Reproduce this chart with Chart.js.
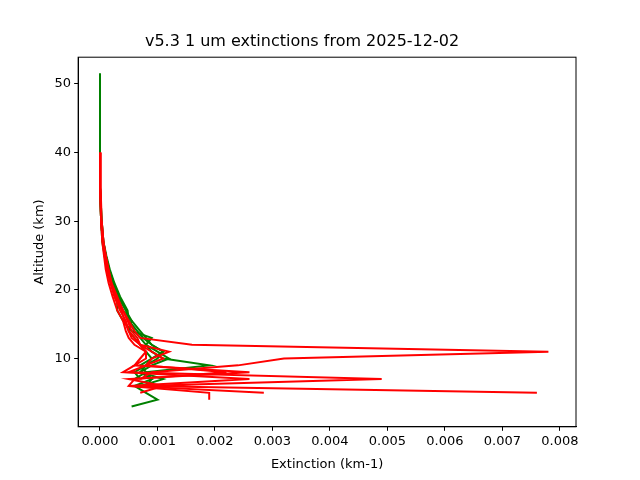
<!DOCTYPE html>
<html><head><script src="https://cdn.jsdelivr.net/npm/chart.js@4"></script>
<style>body{margin:0;background:#fff}</style></head><body>
<div style="width:640px;height:480px"><canvas id="c" width="640" height="480"></canvas></div>
<script>
const alts = [51.5,45,40,35,30,27,25,23,21,19,17,15.5,14,13,12,11,10,9,8,7,6,5,4,3];
const redProfiles = [
 [null,null,0.00001,0.00001,0.00003,0.00006,0.0001,0.00015,0.0002,0.0003,0.0004,0.0005,0.0006,0.0007,0.0016,0.0078,0.0032,0.0024,0.0009,0.0007,null,null,null,null],
 [null,null,0,0,0.00002,0.00005,0.00008,0.00012,0.00018,0.00025,0.00035,0.00045,0.0005,0.0006,0.0007,0.0012,0.0009,0.0008,0.0005,0.0049,0.0007,0.0076,null,null],
 [null,null,null,0,0.00002,0.00004,0.00007,0.0001,0.00015,0.00022,0.0003,0.0004,0.00045,0.0005,0.0006,0.0008,0.0007,0.0006,0.0004,0.0026,0.0005,0.0019,0.0019,null],
 [null,null,null,null,0.00003,0.00006,0.0001,0.00014,0.0002,0.00028,0.0004,0.00048,0.00055,0.00065,0.0007,0.0009,0.0011,0.0008,0.0022,0.0006,0.0005,0.00285,null,null],
 [null,null,0.00001,0.00001,0.00002,0.00005,0.00009,0.00013,0.00019,0.00027,0.00038,0.00042,0.0005,0.00055,0.0007,0.0008,0.0008,0.0006,0.0026,0.0005,0.0011,0.0007,null,null]
];
const greenProfiles = [
 [0,0,0,0,0.00002,0.00005,0.0001,0.00015,0.00022,0.00032,0.00045,0.00055,0.0007,0.0008,0.0009,0.0011,0.0009,0.0008,0.0007,0.0009,0.0006,0.0008,0.001,0.00055],
 [0,0,0,0,0.00003,0.00006,0.00011,0.00017,0.00025,0.00035,0.00048,0.0005,0.0006,0.0007,0.0008,0.001,0.0012,0.0009,0.0007,0.0011,0.0007,null,null,null],
 [0,0,0,0,0.00002,0.00004,0.00008,0.00012,0.0002,0.0003,0.0003,0.0004,0.00055,0.0009,0.0008,0.0009,0.0011,0.0019,0.0008,0.0006,null,null,null,null],
 [0,0,0,0,0.00002,0.00005,0.0001,0.00014,0.0002,0.0003,0.0004,0.00055,0.0005,0.0006,0.0007,0.0008,0.0009,0.0007,0.0008,0.0009,0.0008,null,null,null],
 [0,0,0,0,0.00003,0.00006,0.0001,0.00016,0.00024,0.00033,0.00046,0.0005,0.00065,0.00075,0.0009,0.0011,0.001,0.0008,0.0006,0.0007,null,null,null,null]
];
function pts(p){return alts.map((a,i)=>p[i]===null?null:{x:p[i],y:a}).filter(v=>v);}
const datasets=[];
redProfiles.forEach(p=>datasets.push({data:pts(p),borderColor:'#ff0000',borderWidth:2,showLine:true,pointRadius:0,tension:0}));
greenProfiles.forEach(p=>datasets.push({data:pts(p),borderColor:'#008000',borderWidth:2,showLine:true,pointRadius:0,tension:0}));
const xTicks=[0,0.001,0.002,0.003,0.004,0.005,0.006,0.007,0.008];
const yTicks=[10,20,30,40,50];
const g={drawOnChartArea:false,drawTicks:true,tickLength:4,color:'#000'};
new Chart(document.getElementById('c'),{type:'scatter',data:{datasets},
options:{responsive:false,animation:false,
 layout:{padding:{left:28,right:64,top:8,bottom:4}},
 plugins:{legend:{display:false},tooltip:{enabled:false},
  title:{display:true,text:'v5.3 1 um extinctions from 2025-12-02',color:'#000',font:{family:'DejaVu Sans',size:16,weight:'normal'},padding:{top:24,bottom:6}}},
 scales:{
  x:{min:-0.00038,max:0.00828,grid:g,border:{color:'#000'},
   afterBuildTicks:a=>{a.ticks=xTicks.map(v=>({value:v}))},
   ticks:{color:'#000',font:{family:'DejaVu Sans',size:13},maxRotation:0,padding:3,callback:v=>v.toFixed(3)},
   title:{display:true,text:'Extinction (km-1)',color:'#000',font:{family:'DejaVu Sans',size:13}}},
  y:{min:0.05,max:53.9,grid:g,border:{color:'#000'},
   afterBuildTicks:a=>{a.ticks=yTicks.map(v=>({value:v}))},
   ticks:{color:'#000',font:{family:'DejaVu Sans',size:13},padding:3},
   title:{display:true,text:'Altitude (km)',color:'#000',font:{family:'DejaVu Sans',size:13}}}
 }},
 plugins:[{id:'box',afterDraw(c){const a=c.chartArea,x=c.ctx;x.save();x.strokeStyle='#000';x.lineWidth=1;x.strokeRect(a.left,a.top,a.right-a.left,a.bottom-a.top);x.restore();}}]
});
</script></body></html>
